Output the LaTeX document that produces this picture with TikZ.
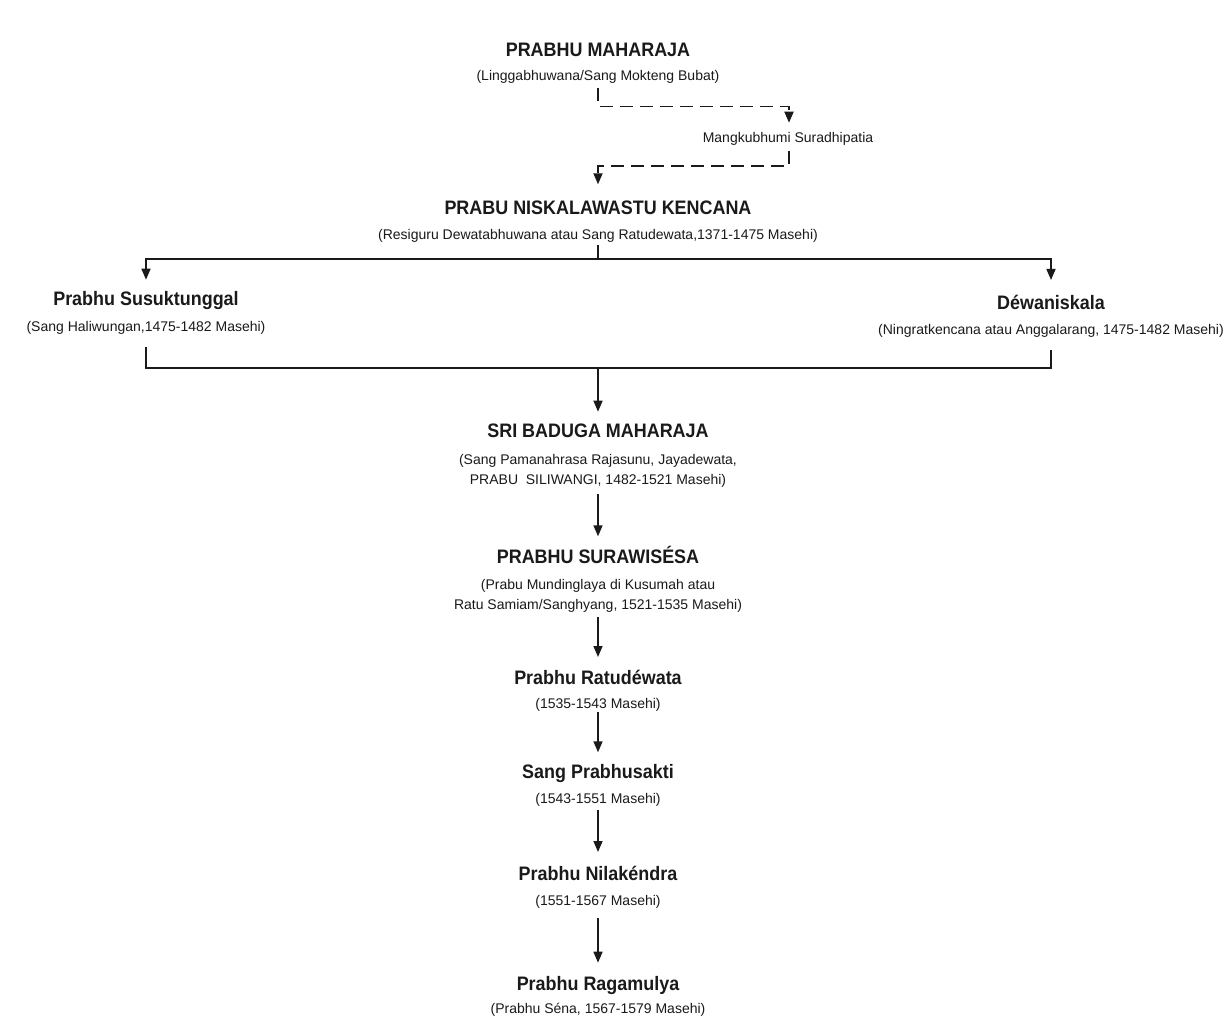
\documentclass[tikz,border=0pt]{standalone}
\usepackage{fontspec}
\setmainfont{Liberation Sans}
\newfontfamily\titlefont[FakeStretch=0.92]{Liberation Sans}
\usetikzlibrary{arrows.meta}
\definecolor{ink}{HTML}{1A1A1A}
\tikzset{
  ttl/.style={anchor=base,inner sep=0pt,text=ink,font=\titlefont\bfseries\fontsize{19.5}{22}\selectfont},
  sub/.style={anchor=base,inner sep=0pt,text=ink,font=\fontsize{14}{16}\selectfont},
  conn/.style={draw=ink,line width=1.5pt},
  arr/.style={conn,-{Triangle[length=11pt,width=9pt]}},
  dline/.style={conn,line width=1.8pt,dash pattern=on 13pt off 7pt},
  darr/.style={dline,-{Triangle[length=11pt,width=9pt]}}
}
\begin{document}
\begin{tikzpicture}[x=1pt,y=-1pt]
\useasboundingbox[fill=white] (0,0) rectangle (1232,1019);
% nodes
\node[ttl] (t1) at (598,56.5) {PRABHU MAHARAJA};
\node[sub] (s1) at (598,80.5) {(Linggabhuwana/Sang Mokteng Bubat)};
\node[sub] (mk) at (788,142.7) {Mangkubhumi Suradhipatia};
\node[ttl] (t2) at (598,214.3) {PRABU NISKALAWASTU KENCANA};
\node[sub] (s2) at (598,239.5) {(Resiguru Dewatabhuwana atau Sang Ratudewata,1371-1475 Masehi)};
\node[ttl] (t3) at (146,305.7) {Prabhu Susuktunggal};
\node[sub] (s3) at (146,331) {(Sang Haliwungan,1475-1482 Masehi)};
\node[ttl] (t4) at (1051,309) {Déwaniskala};
\node[sub] (s4) at (1051,334) {(Ningratkencana atau Anggalarang, 1475-1482 Masehi)};
\node[ttl] (t5) at (598,437.7) {SRI BADUGA MAHARAJA};
\node[sub] (s5a) at (598,464) {(Sang Pamanahrasa Rajasunu, Jayadewata,};
\node[sub] (s5b) at (598,484) {PRABU\ \ SILIWANGI, 1482-1521 Masehi)};
\node[ttl] (t6) at (598,563.3) {PRABHU SURAWISÉSA};
\node[sub] (s6a) at (598,589.3) {(Prabu Mundinglaya di Kusumah atau};
\node[sub] (s6b) at (598,609.3) {Ratu Samiam/Sanghyang, 1521-1535 Masehi)};
\node[ttl] (t7) at (598,684) {Prabhu Ratudéwata};
\node[sub] (s7) at (598,708) {(1535-1543 Masehi)};
\node[ttl] (t8) at (598,778.3) {Sang Prabhusakti};
\node[sub] (s8) at (598,803.3) {(1543-1551 Masehi)};
\node[ttl] (t9) at (598,880) {Prabhu Nilakéndra};
\node[sub] (s9) at (598,905) {(1551-1567 Masehi)};
\node[ttl] (t10) at (598,990.7) {Prabhu Ragamulya};
\node[sub] (s10) at (598,1013.3) {(Prabhu Séna, 1567-1579 Masehi)};
% junction points
\coordinate (j1) at (598,259);
\coordinate (j2) at (598,368);
% dashed connectors
\draw[darr] ([yshift=-8pt]s1.base) -- ++(0,18) -| ([xshift=1pt,yshift=20pt]mk.base);
\draw[darr] ([xshift=1pt,yshift=-8pt]mk.base) -- ++(0,15) -| ([yshift=30pt]t2.base);
% split
\draw[conn] ([yshift=-6pt]s2.base) -- (j1);
\draw[arr] (j1) -| ([yshift=26pt]t3.base);
\draw[arr] (j1) -| ([yshift=29pt]t4.base);
% merge
\draw[conn] ([yshift=-16pt]s3.base) |- (j2) -| ([yshift=-16pt]s4.base);
\draw[arr] (j2) -- ([yshift=26pt]t5.base);
% chain
\draw[arr] ([yshift=-10pt]s5b.base) -- ([yshift=27pt]t6.base);
\draw[arr] ([yshift=-8pt]s6b.base) -- ([yshift=27pt]t7.base);
\draw[arr] ([yshift=-4pt]s7.base) -- ([yshift=26pt]t8.base);
\draw[arr] ([yshift=-7pt]s8.base) -- ([yshift=28pt]t9.base);
\draw[arr] ([yshift=-13pt]s9.base) -- ([yshift=28pt]t10.base);
\end{tikzpicture}
\end{document}
